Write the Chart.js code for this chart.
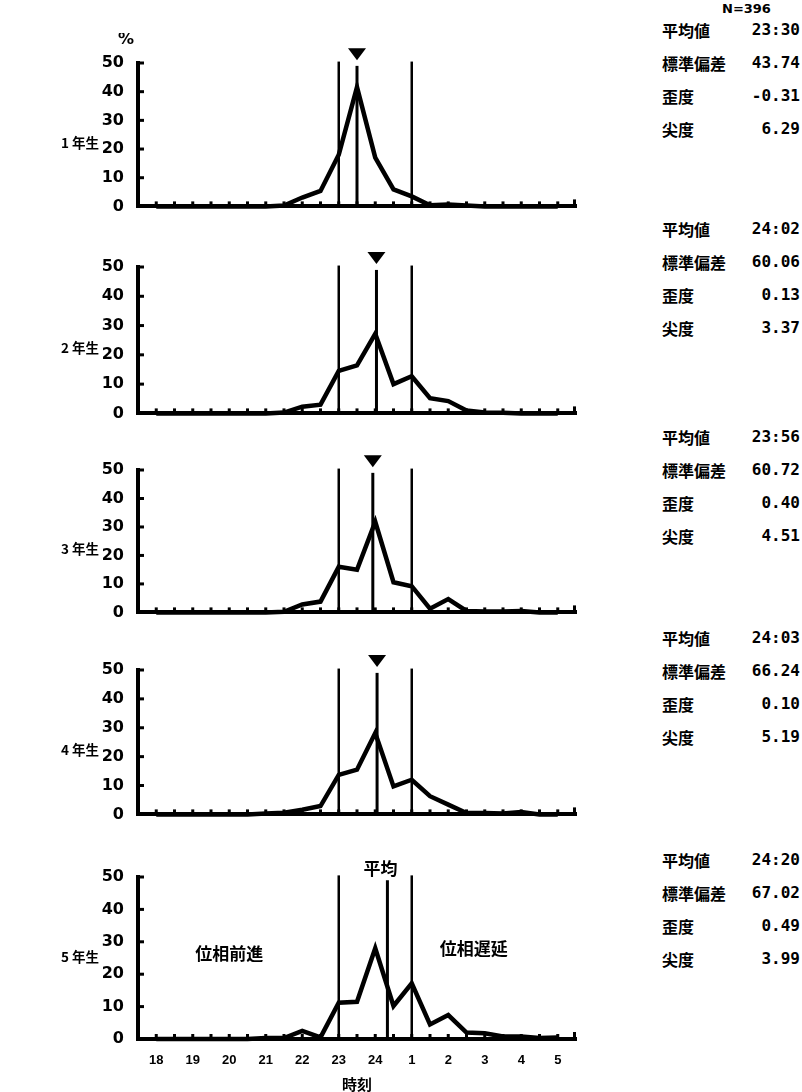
<!DOCTYPE html>
<html>
<head>
<meta charset="utf-8">
<script src="https://cdn.jsdelivr.net/npm/chart.js@4.4.1/dist/chart.umd.min.js"></script>
<style>
  html, body { margin: 0; padding: 0; background: #fff; overflow: hidden; }
  body { width: 802px; height: 1092px; position: relative; color: #000;
         font-family: "Noto Sans CJK JP", sans-serif; font-weight: bold; }
  canvas { position: absolute; left: 0; }
  .grade { position: absolute; left: 61px; font-size: 13.5px; line-height: 20px; margin-top: -10px; }
  .stat { position: absolute; left: 662px; width: 138px; font-size: 16px; line-height: 20px; margin-top: -10px; }
  .stat span { position: absolute; right: 0; top: 0; font-family: "DejaVu Sans Mono", monospace; }
  .n { position: absolute; left: 722px; top: 1px; font-size: 13px; font-family: "DejaVu Sans", sans-serif; }
</style>
</head>
<body>
<div class="n">N=396</div>
<script>
const grades = ['1 年生', '2 年生', '3 年生', '4 年生', '5 年生'];

// half-hour bins, 18:00 .. 5:00 (hours after midnight counted past 24)
const halfHours = [18, 18.5, 19, 19.5, 20, 20.5, 21, 21.5, 22, 22.5, 23, 23.5,
                   24, 24.5, 25, 25.5, 26, 26.5, 27, 27.5, 28, 28.5, 29];

const grade1 = [0, 0, 0, 0, 0, 0, 0, 0.3, 3.1, 5.4, 18, 41.6, 17, 5.9, 3.5, 0.4, 0.7, 0.3, 0, 0, 0, 0, 0];
const grade2 = [0, 0, 0, 0, 0, 0, 0, 0.3, 2.3, 3, 14.5, 16.4, 27.2, 10, 12.7, 5.2, 4.2, 1, 0.3, 0.2, 0, 0, 0];
const grade3 = [0, 0, 0, 0, 0, 0, 0, 0.2, 2.8, 3.8, 16, 15, 31.8, 10.6, 9.2, 1.3, 4.7, 0.5, 0.3, 0.3, 0.5, 0, 0];
const grade4 = [0, 0, 0, 0, 0, 0, 0.3, 0.6, 1.6, 2.9, 13.7, 15.5, 28.2, 9.7, 12, 6.3, 3.4, 0.5, 0.5, 0.3, 0.8, 0, 0];
const grade5 = [0, 0, 0, 0, 0, 0, 0.3, 0.3, 2.5, 0.5, 11.2, 11.5, 28, 10.2, 17.2, 4.5, 7.4, 2, 1.8, 0.8, 0.8, 0.3, 0.5];
const series = [grade1, grade2, grade3, grade4, grade5];

const meanLabels = ['23:30', '24:02', '23:56', '24:03', '24:20'];
const sdLabels = ['43.74', '60.06', '60.72', '66.24', '67.02'];
const skewLabels = ['-0.31', '0.13', '0.40', '0.10', '0.49'];
const kurtLabels = ['6.29', '3.37', '4.51', '5.19', '3.99'];

const hourTicks = [18, 19, 20, 21, 22, 23, 24, 25, 26, 27, 28, 29];
const hourLabels = ['18', '19', '20', '21', '22', '23', '24', '1', '2', '3', '4', '5'];
const yTicks = [0, 10, 20, 30, 40, 50];

// band edges drawn as thin verticals
const bandEdges = [23, 25];

// page layout (pixel rows of the 50 and 0 lines of each panel)
const panelTop = [63, 267, 470, 670, 877];
const panelBase = [224, 431, 630, 832, 1039];
const statTop = [30, 229, 437, 638, 860];

const toHours = s => { const [h, m] = s.split(':').map(Number); return h + m / 60; };

const boldFont = (size, family) => ({ size, weight: 'bold', family: family || '"Liberation Sans", "Noto Sans CJK JP", sans-serif' });

const marks = {
  id: 'marks',
  afterDraw(chart, args, opts) {
    const { ctx, chartArea } = chart;
    const xs = chart.scales.x, ys = chart.scales.y;
    ctx.save();
    ctx.fillStyle = '#000';
    ctx.strokeStyle = '#000';

    // inward ticks on the y axis
    ctx.lineWidth = 3;
    yTicks.slice(1).forEach(v => {
      const y = ys.getPixelForValue(v);
      ctx.beginPath();
      ctx.moveTo(chartArea.left, y);
      ctx.lineTo(chartArea.left + 6, y);
      ctx.stroke();
    });

    // half-hour bumps on the x axis, plus the closing tick
    halfHours.forEach(v => {
      const x = xs.getPixelForValue(v);
      ctx.fillRect(x - 1.5, chartArea.bottom - 5, 3, 5);
    });
    const xEnd = xs.getPixelForValue(xs.max);
    ctx.fillRect(xEnd - 3, chartArea.bottom - 7, 3, 7);

    const mx = xs.getPixelForValue(opts.mean);
    if (!opts.last) {
      // mean marker
      const tip = ys.getPixelForValue(51);
      ctx.beginPath();
      ctx.moveTo(mx, tip);
      ctx.lineTo(mx - 9, tip - 12);
      ctx.lineTo(mx + 9, tip - 12);
      ctx.closePath();
      ctx.fill();
    } else {
      ctx.font = 'bold 17px "Noto Sans CJK JP", sans-serif';
      ctx.textAlign = 'center';
      ctx.textBaseline = 'middle';
      ctx.fillText('平均', mx - 7, ys.getPixelForValue(52.5));
      ctx.fillText('位相前進', xs.getPixelForValue(20), ys.getPixelForValue(26.5));
      ctx.fillText('位相遅延', xs.getPixelForValue(26.7), ys.getPixelForValue(28));
    }

    if (opts.first) {
      ctx.font = 'bold 16px "DejaVu Sans", sans-serif';
      ctx.textAlign = 'center';
      ctx.textBaseline = 'middle';
      ctx.fillText('%', chartArea.left - 12, chartArea.top - 23);
    }
    ctx.restore();
  }
};

function vline(x, top, width) {
  return {
    data: [{ x, y: 0 }, { x, y: top }],
    borderColor: '#000', borderWidth: width, pointRadius: 0, clip: false
  };
}

series.forEach((values, i) => {
  const last = i === series.length - 1;
  const xH = last ? 54 : 6;
  const areaH = panelBase[i] - panelTop[i];
  const canvas = document.createElement('canvas');
  canvas.width = 600;
  canvas.height = 30 + areaH + xH;
  canvas.style.top = (panelTop[i] - 30) + 'px';
  document.body.appendChild(canvas);

  const mean = toHours(meanLabels[i]);

  new Chart(canvas, {
    type: 'line',
    data: {
      datasets: [
        {
          data: halfHours.map((x, k) => ({ x, y: values[k] })),
          borderColor: '#000', borderWidth: 4.5, pointRadius: 0, tension: 0,
          borderJoinStyle: 'miter', clip: false
        },
        ...bandEdges.map(x => vline(x, 50.5, 2.5)),
        vline(mean, 49, 3)
      ]
    },
    options: {
      responsive: false,
      animation: false,
      layout: { padding: { top: 30, right: 24, left: 0, bottom: 0 } },
      plugins: {
        legend: { display: false },
        tooltip: { enabled: false },
        marks: { mean, last, first: i === 0 }
      },
      scales: {
        x: {
          type: 'linear', min: 17.5, max: 29.5,
          grid: { display: false, drawTicks: false },
          border: { color: '#000', width: 4 },
          afterBuildTicks: s => { s.ticks = hourTicks.map(v => ({ value: v })); },
          afterFit: s => { s.height = xH; },
          ticks: {
            display: last, color: '#000', font: boldFont(13), padding: 14,
            autoSkip: false, maxRotation: 0,
            callback: (v, idx) => hourLabels[idx]
          },
          title: {
            display: last, text: '時刻', color: '#000', padding: 0,
            font: boldFont(15, '"Noto Sans CJK JP", sans-serif')
          }
        },
        y: {
          min: 0, max: 50,
          grid: { display: false, drawTicks: false },
          border: { color: '#000', width: 4 },
          afterBuildTicks: s => { s.ticks = yTicks.map(v => ({ value: v })); },
          afterFit: s => { s.width = 138; },
          ticks: { color: '#000', font: boldFont(16, '"DejaVu Sans", sans-serif'), padding: 14 }
        }
      }
    },
    plugins: [marks]
  });

  const g = document.createElement('div');
  g.className = 'grade';
  g.style.top = ((panelTop[i] + panelBase[i]) / 2 - 2) + 'px';
  g.textContent = grades[i];
  document.body.appendChild(g);

  [['平均値', meanLabels[i]], ['標準偏差', sdLabels[i]], ['歪度', skewLabels[i]], ['尖度', kurtLabels[i]]]
    .forEach(([name, val], r) => {
      const d = document.createElement('div');
      d.className = 'stat';
      d.style.top = (statTop[i] + r * 33) + 'px';
      d.textContent = name;
      const s = document.createElement('span');
      s.textContent = val;
      d.appendChild(s);
      document.body.appendChild(d);
    });
});
</script>
</body>
</html>
